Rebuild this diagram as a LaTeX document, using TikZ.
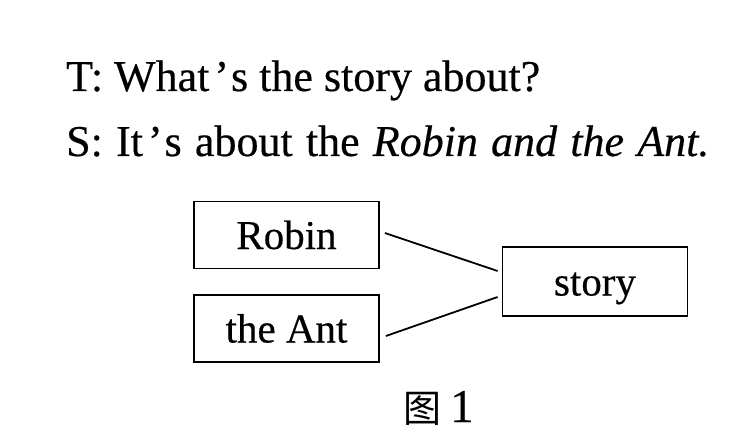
\documentclass[tikz,border=0pt]{standalone}
\usepackage{fontspec}
\setmainfont{Liberation Serif}[FakeBold=0.4]
\newfontfamily\cjkfont{Noto Sans CJK SC}
\usetikzlibrary{calc}
\newcommand{\apos}{\kern5pt’\kern2pt}
\tikzset{
  wordbox/.style={draw, line width=1.8pt, minimum width=185pt, minimum height=67pt,
    inner sep=0pt, text height=28pt, text depth=0pt, font=\fontsize{41}{45}\selectfont},
  link/.style={line width=1.8pt},
  dialog/.style={anchor=base west, inner sep=0pt, font=\fontsize{44}{48}\selectfont}
}
\begin{document}
\begin{tikzpicture}[x=1pt,y=-1pt]
\useasboundingbox (0,0) rectangle (753,441);
\node[dialog] (t) at (66,91) {T: What\apos s the story about?};
\node[dialog] (s) at (66,156) {\spaceskip=13.2pt S: It\apos s about the \textit{Robin and the Ant.}};
\node[wordbox] (robin) at (286.5,235) {Robin};
\node[wordbox] (ant) at (286.5,328.5) {the Ant};
\node[wordbox, minimum height=69pt] (story) at (595,281.5) {story};
\coordinate (r1) at ($(robin.east)+(5,-2)$);
\coordinate (r2) at ($(story.west)+(-4,-10.5)$);
\coordinate (a1) at ($(ant.east)+(6,7.5)$);
\coordinate (a2) at ($(story.west)+(-4,15.5)$);
\draw[link] (r1) -- (r2);
\draw[link] (a1) -- (a2);
\node[anchor=base west, inner sep=0pt] (cap) at (403,422) {{\cjkfont\fontsize{38}{42}\selectfont 图}\hspace{9pt}{\fontsize{47}{50}\selectfont 1}};
\end{tikzpicture}
\end{document}
